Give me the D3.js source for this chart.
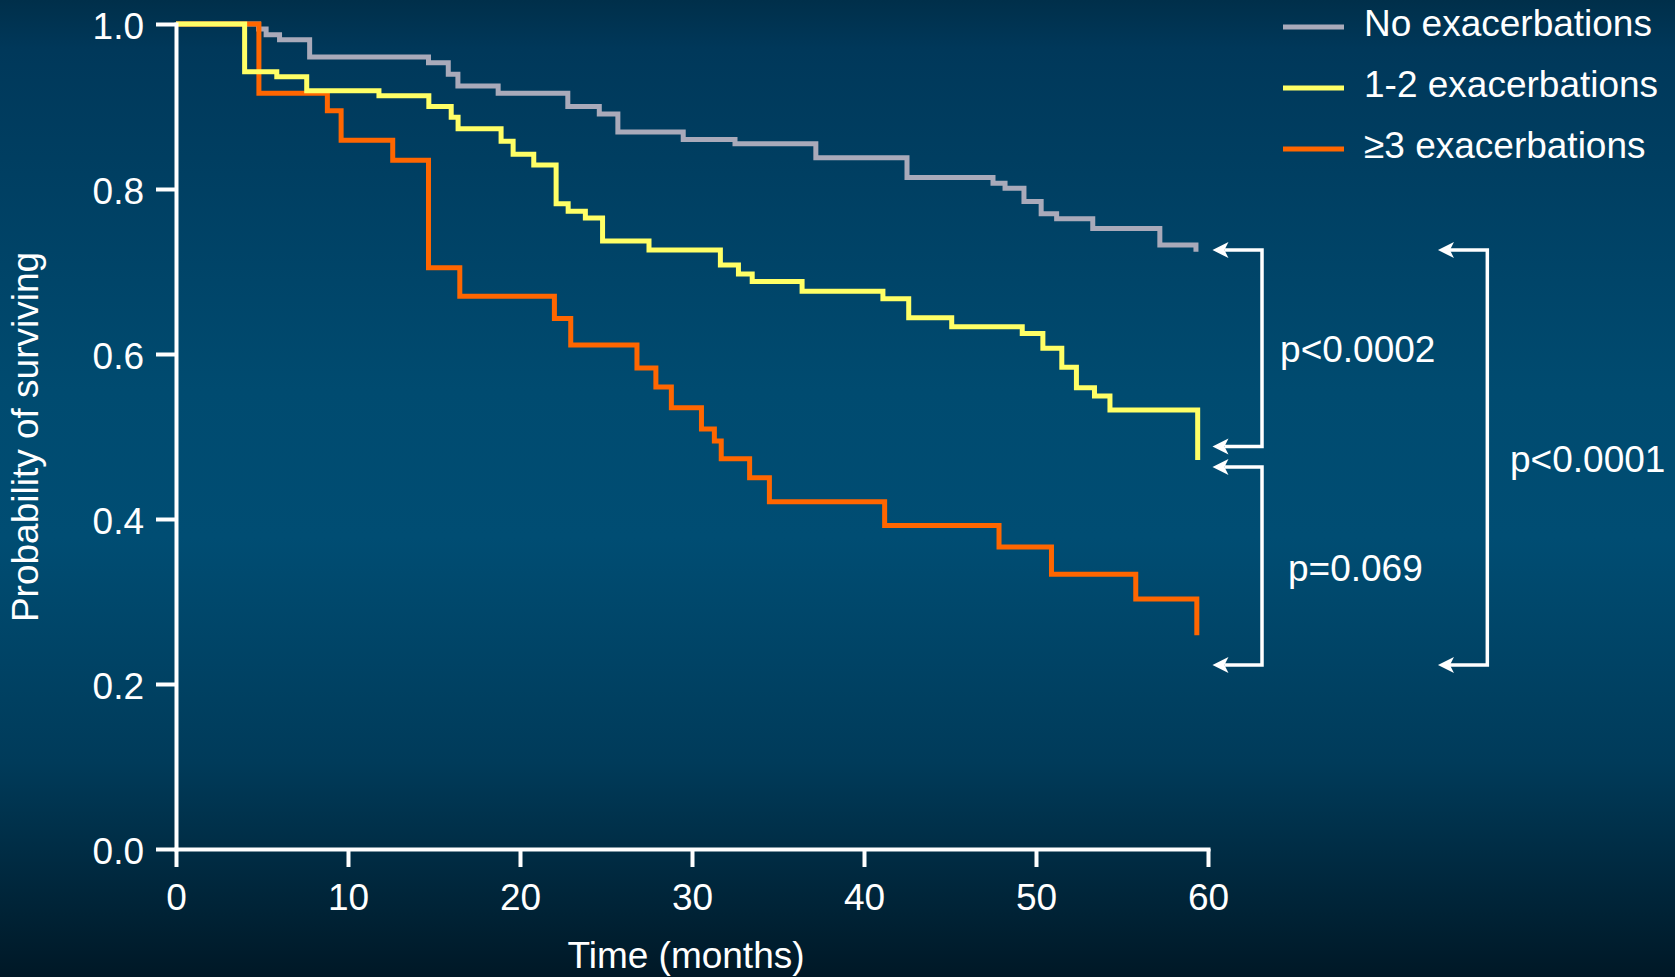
<!DOCTYPE html>
<meta charset="UTF-8">
<head>
<title>Survival by exacerbations</title>
<style>
body { margin: 0; background: #003d5c; }
svg { display: block; }
text { font-family: "Liberation Sans", Arial, sans-serif; fill: #fff; }
.axis path, .axis line { stroke: #fff; stroke-width: 4px; }
.axis text { font-size: 37px; fill: #fff; }
.curve { fill: none; stroke-width: 5px; stroke-linejoin: miter; }
.bracket { fill: none; stroke: #fff; stroke-width: 3.5px; }
</style>
</head>
<body>
<script src="https://d3js.org/d3.v7.min.js"></script>
<script>

// Kaplan-Meier steps: time of drop (months) and survival after it
var timeNone = [0, 4.8, 5.24, 6.02, 7.77, 14.68, 15.83, 16.39, 18.73, 22.78, 24.61, 25.69,
                29.49, 32.5, 37.2, 42.5, 47.5, 48.2, 49.3, 50.3, 51.2, 53.3, 57.2, 59.3];
var survNone = [1.0, 0.994, 0.987, 0.981, 0.960, 0.953, 0.939, 0.925, 0.916, 0.900, 0.891, 0.869,
                0.860, 0.855, 0.838, 0.814, 0.807, 0.801, 0.785, 0.770, 0.764, 0.752, 0.732, 0.724];

var timeMid = [0, 3.99, 5.86, 7.6, 11.8, 14.7, 16.0, 16.4, 18.9, 19.6, 20.8, 22.1, 22.8, 23.8,
               24.8, 27.5, 31.65, 32.7, 33.5, 36.4, 41.1, 42.6, 45.1, 49.2, 50.4, 51.5, 52.35,
               53.4, 54.3, 59.4];
var survMid = [1.0, 0.942, 0.936, 0.919, 0.913, 0.900, 0.887, 0.873, 0.858, 0.842, 0.829, 0.782,
               0.773, 0.765, 0.737, 0.726, 0.708, 0.697, 0.688, 0.676, 0.667, 0.644, 0.633, 0.625,
               0.607, 0.584, 0.559, 0.549, 0.532, 0.4715];

var timeHigh = [0, 4.82, 8.8, 9.6, 12.6, 14.68, 16.5, 22.0, 22.95, 26.8, 27.9, 28.8, 30.55, 31.3,
                31.7, 33.35, 34.5, 41.2, 47.85, 50.9, 55.8, 59.35];
var survHigh = [1.0, 0.916, 0.895, 0.859, 0.835, 0.7045, 0.670, 0.643, 0.611, 0.583, 0.560, 0.535,
                0.509, 0.4945, 0.473, 0.450, 0.421, 0.392, 0.366, 0.333, 0.303, 0.259];

var seriesNames = ["No exacerbations", "1-2 exacerbations", "\u22653 exacerbations"];
var seriesColors = ["#a9aaba", "#ffff66", "#ff6600"];

var xTicks = [0, 10, 20, 30, 40, 50, 60];
var yTicks = [0, 0.2, 0.4, 0.6, 0.8, 1.0];

// log-rank comparisons: [upper survival, lower survival], x in months
var pLabels = ["p<0.0002", "p=0.069", "p<0.0001"];
var pRanges = [[0.726, 0.488], [0.463, 0.223], [0.726, 0.223]];

var width = 1675, height = 977;

var svg = d3.select("body").append("svg")
    .attr("width", width)
    .attr("height", height);

var defs = svg.append("defs");
var grad = defs.append("linearGradient")
    .attr("id", "bg").attr("x1", 0).attr("y1", 0).attr("x2", 0).attr("y2", 1);
[[0, "#002f4a"], [0.05, "#00385a"], [0.4, "#004b70"], [0.55, "#004d73"],
 [0.78, "#003b5a"], [1, "#001826"]].forEach(function(s) {
  grad.append("stop").attr("offset", s[0]).attr("stop-color", s[1]);
});

svg.append("rect").attr("width", width).attr("height", height).attr("fill", "url(#bg)");

var x = d3.scaleLinear().domain([0, 60]).range([176, 1208]);
var y = d3.scaleLinear().domain([0, 1]).range([849, 24]);

// curves, drawn gray -> orange -> yellow
var series = [
  {name: seriesNames[0], color: seriesColors[0], t: timeNone, s: survNone},
  {name: seriesNames[1], color: seriesColors[1], t: timeMid, s: survMid},
  {name: seriesNames[2], color: seriesColors[2], t: timeHigh, s: survHigh}
];

var line = d3.line()
    .x(function(d) { return x(d[0]); })
    .y(function(d) { return y(d[1]); })
    .curve(d3.curveStepAfter);

[0, 2, 1].forEach(function(i) {
  var d = series[i];
  svg.append("path")
      .attr("class", "curve")
      .attr("stroke", d.color)
      .attr("d", line(d3.zip(d.t, d.s)));
});

// axes
svg.append("g")
    .attr("class", "axis")
    .attr("transform", "translate(" + x(0) + ",0)")
    .call(d3.axisLeft(y).tickValues(yTicks).tickFormat(d3.format(".1f"))
      .tickSize(20).tickSizeOuter(0).tickPadding(12))
    .selectAll("text").attr("dy", "0.38em");

svg.append("g")
    .attr("class", "axis")
    .attr("transform", "translate(0," + y(0) + ")")
    .call(d3.axisBottom(x).tickValues(xTicks).tickSize(18).tickSizeOuter(0).tickPadding(17));

svg.selectAll(".axis .domain").attr("stroke-linecap", "square");

svg.append("text")
    .attr("x", 686).attr("y", 968)
    .attr("text-anchor", "middle")
    .style("font-size", "37px")
    .text("Time (months)");

svg.append("text")
    .attr("transform", "translate(38,437) rotate(-90)")
    .attr("text-anchor", "middle")
    .style("font-size", "37px")
    .text("Probability of surviving");

// legend
var legend = svg.append("g").attr("transform", "translate(1283,27)");
series.forEach(function(d, i) {
  var g = legend.append("g").attr("transform", "translate(0," + i * 61 + ")");
  g.append("line").attr("x1", 0).attr("x2", 61)
      .attr("stroke", d.color).attr("stroke-width", 5);
  g.append("text").attr("x", 81).attr("y", 9)
      .style("font-size", "37px")
      .text(d.name);
});

// brackets with arrows
function arrowHead(px, py) {
  return "M" + px + "," + py +
         "L" + (px + 16) + "," + (py - 8) +
         "L" + (px + 12) + "," + py +
         "L" + (px + 16) + "," + (py + 8) + "Z";
}

var brackets = [
  {tip: 60.26, bar: 63.14, label: 64.19, r: pRanges[0], ly: 0.590, text: pLabels[0]},
  {tip: 60.26, bar: 63.14, label: 64.65, r: pRanges[1], ly: 0.325, text: pLabels[1]},
  {tip: 73.37, bar: 76.24, label: 77.56, r: pRanges[2], ly: 0.457, text: pLabels[2]}
];

brackets.forEach(function(b) {
  var xt = x(b.tip), xb = x(b.bar), y1 = y(b.r[0]), y2 = y(b.r[1]);
  svg.append("path")
      .attr("class", "bracket")
      .attr("d", "M" + (xt + 12) + "," + y1 + "H" + xb + "V" + y2 + "H" + (xt + 12));
  svg.append("path").attr("fill", "#fff").attr("d", arrowHead(xt, y1));
  svg.append("path").attr("fill", "#fff").attr("d", arrowHead(xt, y2));
  svg.append("text")
      .attr("x", x(b.label)).attr("y", y(b.ly))
      .style("font-size", "37px")
      .text(b.text);
});

</script>
</body>
</html>
